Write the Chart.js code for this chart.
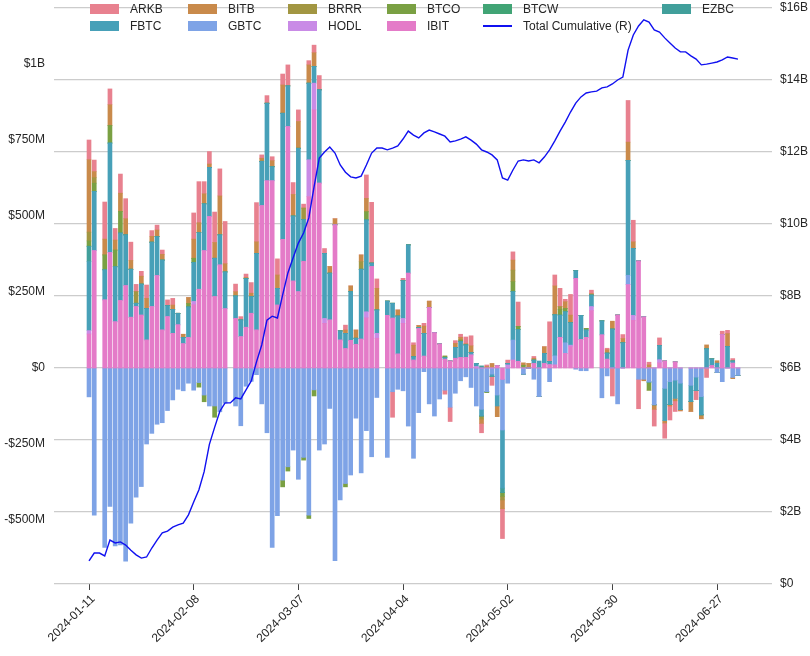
<!DOCTYPE html>
<html>
<head>
<meta charset="utf-8">
<title>Spot Bitcoin ETF Daily Flows</title>
<script src="https://cdn.jsdelivr.net/npm/chart.js"></script>
<style>
    body {
        margin: 0;
        background: #fff;
        font-family: 'Liberation Sans', Arial, sans-serif;
    }
    .wrap {
        position: relative;
        width: 810px;
        height: 656px;
    }
    .legend {
        position: absolute;
        left: 0;
        top: 0;
        font-size: 12px;
        color: #262626;
    }
    .item {
        position: absolute;
        height: 14px;
        line-height: 14px;
        white-space: nowrap;
    }
    .swatch {
        position: absolute;
        left: 0;
        top: 2px;
        width: 29px;
        height: 10px;
    }
    .swatch.line {
        top: 6px;
        height: 1.5px;
    }
    .item span {
        position: absolute;
        left: 40px;
        top: 0;
    }
</style>
</head>
<body>
<div class="wrap">
    <canvas id="flowChart" width="810" height="656"></canvas>
    <div class="legend" id="legend"></div>
</div>

<script>
// daily net flows in $M, one entry per business day from 2024-01-11 (null = market holiday)
const ARKB = [
    65, 38, null, 122, 52, 38, 63, 66, 60, 24,
    16, 44, 19, 16, 14, 19, 22, 0, 0, 0,
    86, 135, 40, 41, 100, 89, 139, null, 25, 11,
    11, 35, 129, 11, 25, 13, 53, 36, 69, 39,
    38, 13, 14, 25, 47, 16, 0, 0, 0, 16,
    0, 0, 0, 77, 200, 31, null, 0, -84, 0,
    8, 0, 8, 0, 9, 0, 0, 0, -13, -47,
    9, 10, 22, 33, 0, -31, 5, -30, 0, -98,
    11, 27, 80, 0, 0, 6, 0, 0, 130, 36,
    60, 8, 68, 0, 0, 0, 11, null, 0, 5,
    -92, 0, 13, 137, 71, -97, 0, 9, -55, 25,
    -50, -46, -35, 0, null, 0, -30, 0, -31, 0,
    0, 11, 11, 8, 0
];
const BITB = [
    238, 20, null, 52, 68, 33, 60, 53, 29, 0,
    26, 33, 19, 22, 19, 0, 14, 0, 11, 20,
    63, 33, 33, 11, 52, 128, 27, null, 14, 0,
    4, 11, 38, 10, 0, 20, 44, 93, 0, 71,
    88, 0, 60, 45, 0, 0, 22, 20, 0, 11,
    19, 27, 22, 44, 0, 71, null, 0, 0, 20,
    0, 0, 38, 7, 24, 21, 0, 0, 0, 0,
    13, 9, 4, 22, 0, -14, 5, 15, -35, -29,
    0, 33, 0, 8, 15, 6, 0, 22, 0, 95,
    0, 22, 25, 0, 0, 0, 5, null, 0, 11,
    26, 0, 14, 60, 22, 0, -5, 10, -15, 0,
    -8, -5, -8, -4, null, -33, 0, -13, 13, 0,
    8, 0, 42, -4, 0
];
const BRRR = [
    29, 18, null, 0, 0, 0, 0, 0, 0, 38,
    0, 0, 0, 0, 0, 0, 0, 0, 0, 0,
    0, 0, 0, 0, 0, 0, 0, null, 0, 0,
    0, 0, 0, 0, 0, 0, 0, 0, 0, 0,
    0, 38, 0, 0, 0, 0, 0, 0, 0, 0,
    0, 0, 25, 0, 0, 0, null, 0, 0, 0,
    0, 0, 0, 0, 0, 0, 0, 0, 0, 0,
    0, 0, 0, 0, 0, -10, 0, 0, 0, -12,
    0, 38, 0, 0, 0, 0, 0, 0, 0, 0,
    9, 0, 0, 0, 0, 0, 0, null, 0, 0,
    0, 0, 0, 0, 0, 0, 0, 0, 0, 0,
    0, 0, 0, 0, null, 0, 0, 0, 0, 0,
    0, 0, 0, 0, 0
];
const BTCO = [
    17, 27, null, 49, 58, 55, 71, 0, 0, 0,
    0, 0, 0, 0, 0, 0, 0, 0, 0, 11,
    14, -15, -22, 0, -37, 0, 0, null, 0, 0,
    0, 0, 0, 0, 0, 0, 0, -22, -14, 0,
    0, -9, -11, -20, 0, 0, 0, 0, 0, -11,
    0, 0, 0, 27, 0, 0, null, 0, 0, 0,
    0, 0, 0, 0, 0, 0, 0, 0, 5, 0,
    0, 5, 0, 0, 0, 0, -3, 0, 0, -12,
    0, 33, 11, 9, 0, 0, 0, 0, 0, 0,
    19, 11, 0, 0, 0, 5, 0, null, 0, 0,
    0, 0, 0, 0, 0, 0, 0, -27, 0, 0,
    0, 0, 0, 0, null, 0, 0, 0, 0, 0,
    0, 0, 0, 0, 0
];
const BTCW = [
    1, 0, null, 0, 0, 0, 0, 0, 0, 0,
    0, 0, 0, 0, 0, 0, 0, 0, 0, 0,
    0, 0, 0, 0, 0, 0, 0, null, 0, 0,
    0, 0, 0, 0, 0, 0, 0, 0, 0, 0,
    0, 0, 0, 0, 0, 0, 0, 0, 0, 0,
    0, 0, 0, 0, 0, 0, null, 0, 0, 0,
    0, 0, 0, 0, 0, 0, 0, 0, 0, 0,
    0, 0, 0, 0, 0, 0, 0, 0, 0, 0,
    0, 0, 0, 0, 0, 0, 0, 0, 0, 0,
    0, 0, 0, 0, 0, 0, 0, null, 0, 0,
    0, 0, 0, 0, 0, 0, 0, 0, 0, 0,
    0, 0, 0, 0, null, 0, 0, 0, 0, 0,
    0, 0, 0, 0, 0
];
const EZBC = [
    50, 0, null, 0, 0, 0, 0, 0, 0, 0,
    0, 0, 0, 0, 0, 0, 0, 0, 0, 0,
    0, 0, 0, 0, 0, 0, 0, null, 0, 0,
    0, 0, 0, 0, 0, 0, 0, 0, 0, 0,
    0, 0, 0, 0, 0, 0, 0, 0, 0, 0,
    0, 0, 0, 0, 0, 0, null, 0, 0, 0,
    0, 0, 0, 0, 0, 0, 0, 0, 0, 0,
    0, 0, 0, 0, 0, 7, 0, 0, 0, -15,
    0, 0, 0, 0, 0, 0, 0, 0, 0, 0,
    0, 0, 0, 0, 0, 0, 0, null, 0, 0,
    0, 0, 0, 0, 0, 0, 0, 0, 0, 0,
    0, 0, 0, 0, null, 0, 0, 0, 0, 0,
    0, 0, 0, 0, 0
];
const FBTC = [
    227, 195, null, 99, 360, 181, 222, 167, 158, 11,
    102, 104, 212, 128, 230, 36, 79, 38, 20, 100,
    128, 186, 154, 162, 126, 99, 121, null, 74, 55,
    160, 55, 252, 146, 255, 46, 55, 415, 134, 214,
    472, 137, 252, 55, 307, 214, 154, 0, 30, 50,
    160, 20, 230, 302, 11, 77, null, 47, 49, 125,
    124, 93, 11, 3, 75, 0, 0, 0, 5, 0,
    36, 52, 41, 8, 10, -22, 0, -7, -36, -191,
    5, 159, 104, 0, 0, 11, 23, 33, 11, 135,
    73, 102, 74, 25, 79, 24, 38, null, 46, 20,
    128, 0, 83, 378, 220, 0, 0, 0, 0, 47,
    -106, -75, -60, -87, null, -53, -44, -60, 63, 22,
    16, 0, 71, 7, 0
];
const GBTC = [
    -95, -484, null, -590, -455, -585, -582, -635, -510, -425,
    -390, -250, -215, -185, -180, -140, -105, -70, -75, -50,
    -73, -48, -89, -125, -125, -144, -116, null, -125, -190,
    -60, -44, -22, -118, -213, -590, -486, -369, -325, -270,
    -366, -294, -484, -72, -270, -250, -133, -634, -434, -380,
    -352, -165, -345, -206, -292, -97, null, -294, -78, -70,
    -75, -191, -297, -147, -12, -118, -158, -102, -73, -129,
    -83, -42, -29, -64, -125, -136, -78, -20, -89, -167,
    -50, 66, 0, -20, 0, -37, -94, 0, -45, 30,
    0, 35, 0, -4, -9, -9, 0, null, -98, -26,
    0, -118, 0, 31, 0, -37, -37, -46, -121, 0,
    -67, -45, -40, -50, null, -57, -30, -94, 0, 0,
    -15, -45, 0, -31, -24
];
const HODL = [
    11, 0, null, 0, 0, 0, 0, 0, 0, 0,
    0, 0, 0, 0, 0, 0, 0, 0, 0, 0,
    11, 0, 0, 0, 0, 0, 0, null, 0, 0,
    0, 0, 0, 0, 0, 0, 0, 0, 0, 0,
    0, 0, 121, 88, 0, 16, 0, 0, 0, 0,
    0, 0, 0, 20, 0, 16, null, 0, 0, 0,
    16, 0, 0, 0, 0, 0, 0, 0, 0, 0,
    0, 0, 0, 0, 5, 0, 0, 0, 0, 0,
    10, 0, 0, 0, 0, 0, 0, 0, 0, 0,
    0, 0, 5, 0, 0, 0, 13, null, 0, 0,
    0, 0, 0, 0, 16, 0, 0, 0, 0, 10,
    0, 0, 0, 0, null, 0, 0, 0, 0, 0,
    0, 0, 0, 0, 0
];
const IBIT = [
    112, 386, null, 224, 380, 152, 222, 271, 167, 202,
    174, 92, 202, 304, 125, 169, 114, 142, 80, 101,
    208, 259, 386, 498, 235, 339, 195, null, 163, 103,
    134, 180, 125, 534, 616, 616, 207, 423, 794, 286,
    251, 351, 564, 849, 608, 147, 158, 471, 92, 64,
    91, 78, 95, 165, 334, 98, null, 173, 164, 46,
    147, 312, 26, 130, 39, 199, 116, 79, 29, 23,
    32, 35, 35, 43, 0, 0, 0, 0, 8, -37,
    0, 26, 22, 0, 0, 15, 0, 15, 11, 10,
    101, 48, 70, 295, 94, 101, 189, null, 109, 29,
    0, 174, 0, 274, 157, 352, 168, 0, 0, 17,
    23, 0, 20, 0, null, 0, 0, 0, 0, 8,
    0, 110, 0, 16, 0
];

// total cumulative net flow in $B (holidays carry the prior value)
const totalCumulative = [
    0.64, 0.86, 0.86, 0.78, 1.22, 1.14, 1.17, 1.08, 0.94, 0.81,
    0.72, 0.75, 1.0, 1.22, 1.42, 1.47, 1.58, 1.64, 1.69, 1.92,
    2.28, 2.62, 3.12, 3.88, 4.35, 4.8, 5.03, 5.03, 5.17, 5.14,
    5.39, 5.64, 6.17, 6.64, 7.33, 7.44, 7.39, 8.03, 8.64, 9.06,
    9.47, 9.75, 10.17, 11.03, 11.83, 12.0, 12.14, 11.97, 11.64, 11.44,
    11.31, 11.28, 11.33, 11.64, 11.97, 12.11, 12.11, 12.06, 12.11, 12.17,
    12.36, 12.58, 12.47, 12.39, 12.53, 12.61, 12.56, 12.5, 12.44, 12.28,
    12.31, 12.36, 12.42, 12.33, 12.22, 12.06, 12.0, 11.92, 11.78, 11.28,
    11.22, 11.5, 11.75, 11.78, 11.75, 11.78, 11.7, 11.86, 12.06, 12.31,
    12.58, 12.83, 13.11, 13.36, 13.53, 13.64, 13.67, 13.69, 13.78, 13.81,
    13.89, 14.0, 14.08, 14.83, 15.25, 15.5, 15.67, 15.61, 15.39, 15.33,
    15.17, 15.03, 14.89, 14.78, 14.78, 14.67, 14.58, 14.42, 14.44, 14.47,
    14.5, 14.56, 14.64, 14.61, 14.58
];

// x tick labels every 20 business days
const tickPositions = [0, 20, 40, 60, 80, 100, 120];
const tickLabels = ['2024-01-11', '2024-02-08', '2024-03-07', '2024-04-04',
                    '2024-05-02', '2024-05-30', '2024-06-27'];

// legend order (as in the picture) and colours
const fundNames = ['ARKB', 'BITB', 'BRRR', 'BTCO', 'BTCW', 'EZBC', 'FBTC', 'GBTC', 'HODL', 'IBIT'];
const fundValues = { ARKB, BITB, BRRR, BTCO, BTCW, EZBC, FBTC, GBTC, HODL, IBIT };
const fundColors = {
    ARKB: '#e8818f', BITB: '#c98a4b', BRRR: '#a29642', BTCO: '#7aa043', BTCW: '#41a475',
    EZBC: '#419f9b', FBTC: '#47a0b8', GBTC: '#7ea3e6', HODL: '#c98be6', IBIT: '#e47bc8'
};
const lineColor = '#1010f0';

function toPoints(arr) {
    return arr.map((v, i) => ({ x: i, y: v }));
}

// stacks are built bottom-up from IBIT to ARKB
const stackOrder = fundNames.slice().reverse();
const datasets = [{
    type: 'line',
    label: 'Total Cumulative (R)',
    data: toPoints(totalCumulative),
    yAxisID: 'y1',
    borderColor: lineColor,
    borderWidth: 1.4,
    pointRadius: 0,
    tension: 0,
    order: 0
}];
stackOrder.forEach(function(name) {
    datasets.push({
        type: 'bar',
        label: name,
        data: toPoints(fundValues[name]),
        yAxisID: 'y',
        backgroundColor: fundColors[name],
        borderWidth: 0,
        barThickness: 4,
        order: 1
    });
});

// legend laid out in matplotlib's column order
const legendCols = [90, 188, 288, 387, 483, 662];
const legendItems = [
    ['ARKB', 0, 0], ['BITB', 1, 0], ['BRRR', 2, 0], ['BTCO', 3, 0], ['BTCW', 4, 0], ['EZBC', 5, 0],
    ['FBTC', 0, 1], ['GBTC', 1, 1], ['HODL', 2, 1], ['IBIT', 3, 1], ['Total Cumulative (R)', 4, 1]
];
const legendEl = document.getElementById('legend');
legendItems.forEach(function(it) {
    const div = document.createElement('div');
    div.className = 'item';
    div.style.left = legendCols[it[1]] + 'px';
    div.style.top = (it[2] === 0 ? 2 : 19) + 'px';
    const sw = document.createElement('div');
    if (fundColors[it[0]]) {
        sw.className = 'swatch';
        sw.style.background = fundColors[it[0]];
    } else {
        sw.className = 'swatch line';
        sw.style.background = lineColor;
    }
    const txt = document.createElement('span');
    txt.textContent = it[0];
    div.appendChild(sw);
    div.appendChild(txt);
    legendEl.appendChild(div);
});

Chart.defaults.font.family = "'Liberation Sans', Arial, sans-serif";
Chart.defaults.font.size = 12;
Chart.defaults.color = '#262626';

function fmtMillions(v) {
    if (v === 0) return '$0';
    const sign = v < 0 ? '-' : '';
    const a = Math.abs(v);
    return sign + '$' + (a >= 1000 ? (a / 1000) + 'B' : a + 'M');
}

// fixed axis boxes so the plot area sits where the reference has it
function fixVertical(width) {
    return function(scale) {
        scale.width = width;
        scale.paddingTop = 0;
        scale.paddingBottom = 0;
    };
}

const ctx = document.getElementById('flowChart').getContext('2d');
const flowChart = new Chart(ctx, {
    type: 'bar',
    data: { datasets: datasets },
    options: {
        responsive: false,
        animation: false,
        devicePixelRatio: 1,
        events: [],
        layout: { padding: { top: 8, left: 0, right: 0, bottom: 0 } },
        plugins: {
            legend: { display: false },
            tooltip: { enabled: false }
        },
        scales: {
            x: {
                type: 'linear',
                stacked: true,
                offset: false,
                min: -6.69,
                max: 130.5,
                afterFit: function(scale) {
                    scale.height = 72;
                    scale.paddingLeft = 0;
                    scale.paddingRight = 0;
                },
                border: { display: false },
                grid: {
                    display: true,
                    offset: false,
                    drawOnChartArea: false,
                    drawTicks: true,
                    tickLength: 6,
                    color: '#444'
                },
                ticks: {
                    stepSize: 20,
                    includeBounds: false,
                    autoSkip: false,
                    minRotation: 45,
                    maxRotation: 45,
                    padding: 2,
                    labelOffset: 4,
                    callback: function(v) {
                        const k = tickPositions.indexOf(v);
                        return k >= 0 ? tickLabels[k] : '';
                    }
                }
            },
            y: {
                type: 'linear',
                position: 'left',
                stacked: true,
                min: -710.5,
                max: 1184.2,
                afterFit: fixVertical(54),
                border: { display: false },
                grid: { display: false, drawTicks: false },
                ticks: {
                    stepSize: 250,
                    includeBounds: false,
                    padding: 9,
                    callback: fmtMillions
                }
            },
            y1: {
                type: 'linear',
                position: 'right',
                min: 0,
                max: 16,
                afterFit: fixVertical(38),
                border: { display: false },
                grid: {
                    display: true,
                    drawTicks: false,
                    color: '#cccccc',
                    lineWidth: 1.3
                },
                ticks: {
                    stepSize: 2,
                    padding: 8,
                    callback: function(v) { return v === 0 ? '$0' : '$' + v + 'B'; }
                }
            }
        }
    }
});
</script>
</body>
</html>
